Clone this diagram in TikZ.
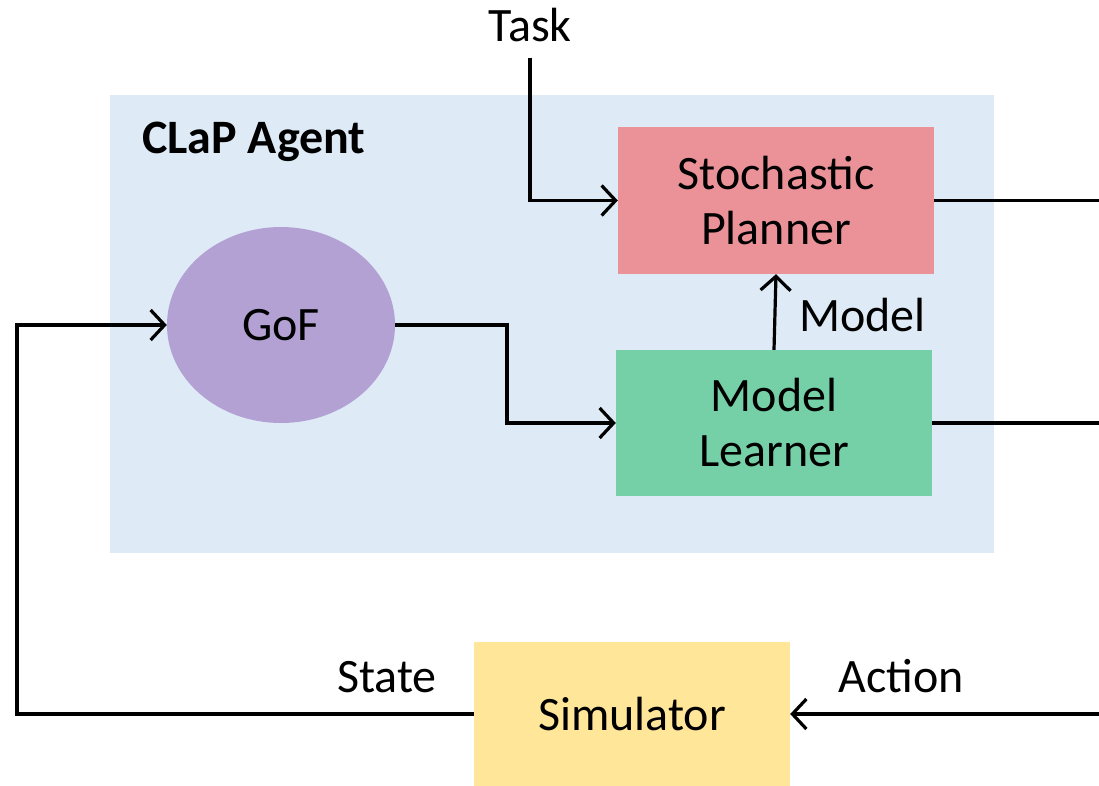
\documentclass[tikz,border=0pt]{standalone}
\usepackage{fontspec}
\setmainfont{Carlito}
\usetikzlibrary{arrows.meta,shapes.geometric}
\definecolor{bgblue}{RGB}{222,235,246}
\definecolor{planpink}{RGB}{235,146,152}
\definecolor{learngreen}{RGB}{117,207,167}
\definecolor{gofpurple}{RGB}{179,161,212}
\definecolor{simyellow}{RGB}{255,230,153}
\begin{document}
\begin{tikzpicture}[x=1pt,y=-1pt,
  bigtext/.style={font=\fontsize{48}{55}\selectfont},
  blockbox/.style={rectangle,draw=none,bigtext,align=center,inner sep=0pt},
  lbl/.style={bigtext,inner sep=0pt,anchor=base},
  conn/.style={line width=3.2pt,draw=black},
  arr/.style={conn,-{Straight Barb[length=14pt,width=30pt,line width=3.2pt]}}]
\useasboundingbox (0,0) rectangle (1099,785);
\fill[white] (0,0) rectangle (1099,785);
% agent background
\fill[bgblue] (110,95) rectangle (994,553);
\node[lbl,anchor=base west,font=\fontsize{48}{55}\selectfont\bfseries] (agent) at (142,153) {CLaP Agent};
% blocks
\node[blockbox,fill=planpink,minimum width=316pt,minimum height=147pt] (planner) at (776,200.5) {Stochastic\\Planner};
\node[blockbox,fill=learngreen,minimum width=316pt,minimum height=146pt] (learner) at (774,423) {Model\\Learner};
\node[ellipse,fill=gofpurple,minimum width=228pt,minimum height=196pt,inner sep=0pt,bigtext] (gof) at (281,325) {GoF};
\node[blockbox,fill=simyellow,minimum width=316pt,minimum height=144pt] (sim) at (632,714) {Simulator};
% labels
\node[lbl] (task) at (530,41) {Task};
\node[lbl,anchor=base west] (modellbl) at (799,331) {Model};
\node[lbl] (state) at (387,692) {State};
\node[lbl] (action) at (901,692) {Action};
% coordinates
\coordinate (mid) at (507,325);
\coordinate (lc) at (17,714);
\coordinate (r1) at (1099,200.5);
\coordinate (r2) at (1099,423);
\coordinate (r3) at (1099,714);
% connectors
\draw[arr] ([yshift=-16pt]task.south) |- (planner.west);
\draw[arr] (learner.north) -- (planner.south);
\draw[arr] (gof.east) -- (mid) |- (learner.west);
\draw[arr] (sim.west) -- (lc) |- (gof.west);
\draw[conn] (planner.east) -- (r1);
\draw[conn] (learner.east) -- (r2);
\draw[arr] (r3) -- (sim.east);
\end{tikzpicture}
\end{document}
